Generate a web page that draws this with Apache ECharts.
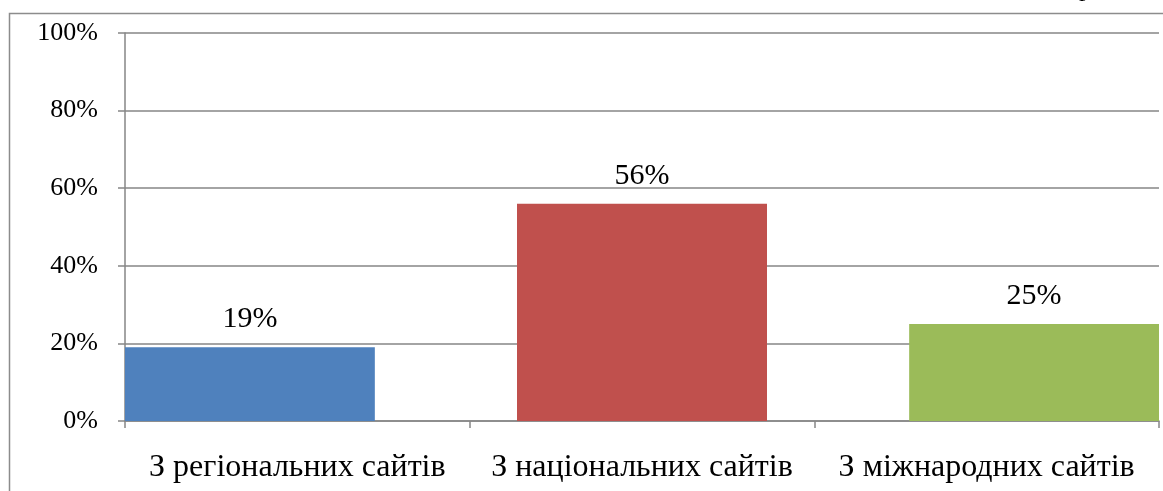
<!DOCTYPE html>
<html>
<head>
<meta charset="utf-8">
<script src="https://cdn.jsdelivr.net/npm/echarts@6/dist/echarts.min.js"></script>
<style>
html,body{margin:0;padding:0;background:#fff;}
#chart{width:1163px;height:491px;}
</style>
</head>
<body>
<div id="chart"></div>
<script>
const categories = ['З регіональних сайтів', 'З національних сайтів', 'З міжнародних сайтів'];
const values = [19, 56, 25];
const colors = ['#4F81BD', '#C0504D', '#9BBB59'];
const yTicks = [0, 20, 40, 60, 80, 100];

const font = '"Liberation Serif", "Times New Roman", serif';
const series = values.map((v, i) => ({
  type: 'bar',
  data: categories.map((c, j) => (j === i ? v : '-')),
  barWidth: 250,
  barGap: '-81%',
  itemStyle: { color: colors[i] },
  label: {
    show: true, position: 'top', distance: 13,
    formatter: '{c}%', color: '#000', fontFamily: font, fontSize: 30
  },
  animation: false
}));

const chart = echarts.init(document.getElementById('chart'), null, { renderer: 'canvas' });
chart.setOption({
  animation: false,
  backgroundColor: '#fff',
  grid: { left: 125, right: 4, top: 33, bottom: 70, containLabel: false },
  graphic: [
    { type: 'rect', shape: { x: 9.5, y: 13.5, width: 1200, height: 600 },
      style: { fill: 'none', stroke: '#8c8c8c', lineWidth: 1.5 }, silent: true },
    { type: 'text', left: 1079, top: -24, style: { text: 'р', font: '26px ' + font, fill: '#000' } }
  ],
  xAxis: {
    type: 'category', data: categories,
    axisLine: { lineStyle: { color: '#868686', width: 1.5 } },
    axisTick: { show: true, length: 7, alignWithLabel: false, lineStyle: { color: '#868686', width: 1.5 } },
    axisLabel: { color: '#000', fontFamily: font, fontSize: 32, margin: 31, interval: 0 },
    splitLine: { show: false }
  },
  yAxis: {
    type: 'value', min: 0, max: 100, interval: 20,
    axisLine: { show: true, lineStyle: { color: '#868686', width: 1.5 } },
    axisTick: { show: true, length: 7, lineStyle: { color: '#868686', width: 1.5 } },
    axisLabel: { color: '#000', fontFamily: font, fontSize: 26, margin: 27,
      formatter: v => (yTicks.includes(v) ? v + '%' : '') },
    splitLine: { show: true, lineStyle: { color: '#868686', width: 1.5 } }
  },
  series: series
});
</script>
</body>
</html>
